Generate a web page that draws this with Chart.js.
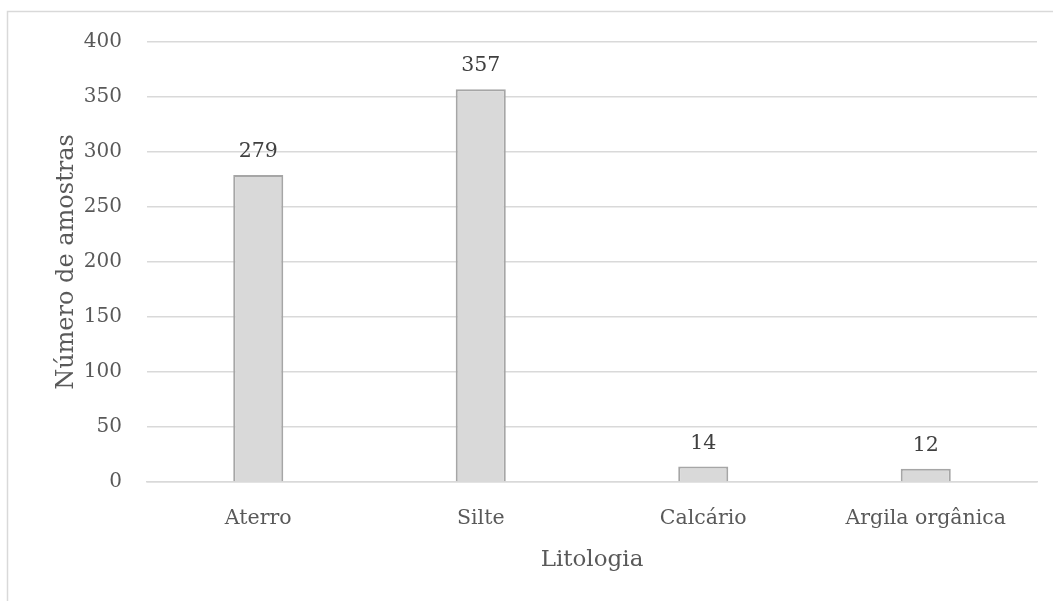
<!DOCTYPE html>
<html>
<head>
<meta charset="utf-8">
<script src="https://cdn.jsdelivr.net/npm/chart.js@4.4.1/dist/chart.umd.min.js"></script>
<style>
  html, body { margin: 0; padding: 0; background: #ffffff; }
  #wrap { width: 1053px; height: 601px; position: relative; }
</style>
</head>
<body>
<div id="wrap"><canvas id="chart" width="1053" height="601"></canvas></div>
<script>
// Number of samples per lithology
const categories = ['Aterro', 'Silte', 'Calcário', 'Argila orgânica'];
const sampleCounts = [279, 357, 14, 12];
const yTicks = [0, 50, 100, 150, 200, 250, 300, 350, 400];

const SERIF = '"DejaVu Serif", "Liberation Serif", serif';

// Light frame around the chart (left and top edges visible)
const framePlugin = {
  id: 'frame',
  beforeDraw(chart) {
    const ctx = chart.ctx;
    ctx.save();
    ctx.fillStyle = '#ffffff';
    ctx.fillRect(0, 0, chart.width, chart.height);
    ctx.strokeStyle = '#d9d9d9';
    ctx.lineWidth = 1.5;
    ctx.beginPath();
    ctx.moveTo(7.5, chart.height + 2);
    ctx.lineTo(7.5, 11.5);
    ctx.lineTo(chart.width + 2, 11.5);
    ctx.stroke();
    ctx.restore();
  }
};

// Value labels above each bar
const valueLabels = {
  id: 'valueLabels',
  afterDatasetsDraw(chart) {
    const ctx = chart.ctx;
    const meta = chart.getDatasetMeta(0);
    const data = chart.data.datasets[0].data;
    ctx.save();
    ctx.font = '20.5px ' + SERIF;
    ctx.fillStyle = '#404040';
    ctx.textAlign = 'center';
    ctx.textBaseline = 'alphabetic';
    meta.data.forEach((bar, i) => {
      ctx.fillText(String(data[i]), bar.x, bar.y - 18);
    });
    ctx.restore();
  }
};

new Chart(document.getElementById('chart'), {
  type: 'bar',
  data: {
    labels: categories,
    datasets: [{
      data: sampleCounts,
      backgroundColor: '#d9d9d9',
      borderColor: '#a6a6a6',
      borderWidth: 2,
      barPercentage: 0.225,
      categoryPercentage: 1.0
    }]
  },
  options: {
    responsive: false,
    animation: false,
    devicePixelRatio: 1,
    layout: { padding: { left: 8, right: 16, top: 42, bottom: 0 } },
    plugins: {
      legend: { display: false },
      tooltip: { enabled: false }
    },
    scales: {
      x: {
        grid: { display: false, drawTicks: false },
        border: { display: true, color: '#d9d9d9', width: 1.5 },
        ticks: {
          color: '#595959',
          font: { family: SERIF, size: 20.5 },
          padding: 24,
          maxRotation: 0
        },
        title: {
          display: true,
          text: 'Litologia',
          color: '#595959',
          font: { family: SERIF, size: 23 },
          padding: { top: 0, bottom: 27 }
        },
        afterFit(scale) { scale.height = 119; }
      },
      y: {
        min: 0,
        max: 400,
        afterBuildTicks(scale) { scale.ticks = yTicks.map(v => ({ value: v })); },
        grid: { color: '#d9d9d9', lineWidth: 1.5, drawTicks: false },
        border: { display: false },
        ticks: {
          color: '#595959',
          font: { family: SERIF, size: 20 },
          padding: 25
        },
        title: {
          display: true,
          text: 'Número de amostras',
          color: '#595959',
          font: { family: SERIF, size: 24 },
          padding: { top: 44, bottom: 0 }
        },
        afterFit(scale) { scale.width = 139; }
      }
    }
  },
  plugins: [framePlugin, valueLabels]
});
</script>
</body>
</html>
